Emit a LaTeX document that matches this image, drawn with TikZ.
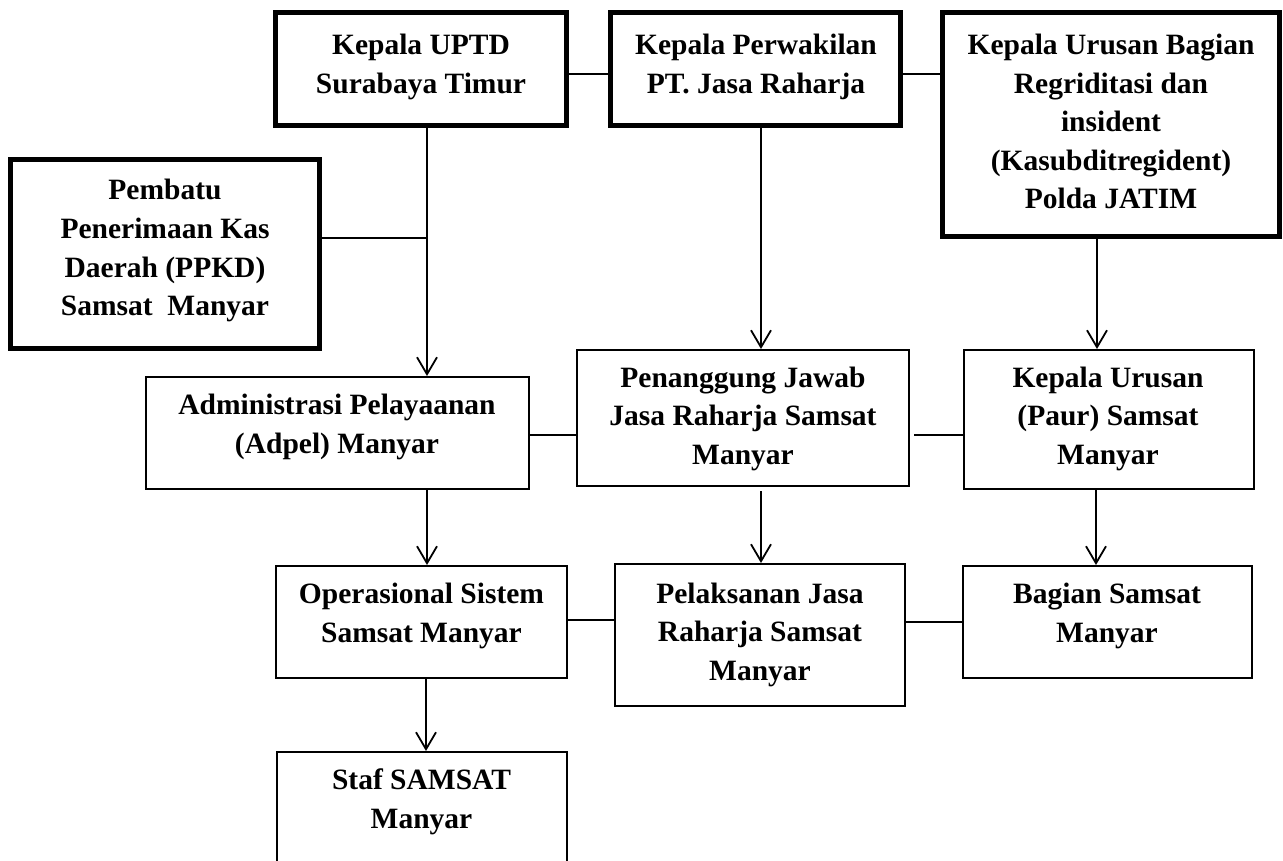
\documentclass[tikz,border=0pt]{standalone}
\usepackage{fontspec}
\setmainfont{Liberation Serif}
\usetikzlibrary{arrows.meta}
\begin{document}
\begin{tikzpicture}[x=1pt,y=-1pt,
  thickbox/.style={draw=black,line width=5pt,rectangle,inner sep=0pt,fill=white},
  thinbox/.style={draw=black,line width=2.4pt,rectangle,inner sep=0pt,fill=white},
  txt/.style={align=center,inner sep=0pt,font=\fontsize{29.5}{38.6}\selectfont\bfseries},
  conn/.style={draw=black,line width=1.8pt},
  arr/.style={conn,-{Straight Barb[length=17pt,width=20pt,line width=1.8pt]}}]
\clip (0,0) rectangle (1283,861);
\fill[white] (0,0) rectangle (1283,861);
% boxes
\node[thickbox,minimum width=291pt,minimum height=113pt] (b1) at (421,69) {};
\node[thickbox,minimum width=290pt,minimum height=113pt] (b2) at (755.5,69) {};
\node[thickbox,minimum width=337pt,minimum height=224pt] (b3) at (1111,124.5) {};
\node[thickbox,minimum width=309pt,minimum height=189pt] (b4) at (165,254) {};
\node[thinbox,minimum width=382.6pt,minimum height=111.6pt] (b5) at (337.5,433) {};
\node[thinbox,minimum width=331.6pt,minimum height=135.6pt] (b6) at (743,418) {};
\node[thinbox,minimum width=289.6pt,minimum height=138.6pt] (b7) at (1109,419.5) {};
\node[thinbox,minimum width=290.6pt,minimum height=111.6pt] (b8) at (421.5,622) {};
\node[thinbox,minimum width=289.6pt,minimum height=141.6pt] (b9) at (760,635) {};
\node[thinbox,minimum width=288.6pt,minimum height=111.6pt] (b10) at (1107.5,622) {};
\node[thinbox,minimum width=289.6pt,minimum height=140pt] (b11) at (422,822.2) {};
% texts
\node[txt] (t1) at (421,66.5) {\strut Kepala UPTD\\Surabaya Timur\strut};
\node[txt] (t2) at (756,66.5) {\strut Kepala Perwakilan\\PT. Jasa Raharja\strut};
\node[txt] (t3) at (1111,124) {\strut Kepala Urusan Bagian\\Regriditasi dan\\insident\\(Kasubditregident)\\Polda JATIM\strut};
\node[txt] (t4) at (165,250) {\strut Pembatu\\Penerimaan Kas\\Daerah (PPKD)\\Samsat\ \ Manyar\strut};
\node[txt] (t5) at (337,426.5) {\strut Administrasi Pelayaanan\\(Adpel) Manyar\strut};
\node[txt] (t6) at (743,418) {\strut Penanggung Jawab\\Jasa Raharja Samsat\\Manyar\strut};
\node[txt] (t7) at (1108,418) {\strut Kepala Urusan\\(Paur) Samsat\\Manyar\strut};
\node[txt] (t8) at (421.5,615) {\strut Operasional Sistem\\Samsat Manyar\strut};
\node[txt] (t9) at (760,634) {\strut Pelaksanan Jasa\\Raharja Samsat\\Manyar\strut};
\node[txt] (t10) at (1107,615.5) {\strut Bagian Samsat\\Manyar\strut};
\node[txt] (t11) at (421.5,801.5) {\strut Staf SAMSAT\\Manyar\strut};
% helper coordinates
\coordinate (y74) at (0,74);
\coordinate (j1) at (427,238);
\coordinate (x761) at (761,0);
\coordinate (x1097) at (1097,0);
\coordinate (x1096) at (1096,0);
\coordinate (x426) at (426,0);
\coordinate (y435) at (0,435);
\coordinate (y620) at (0,620);
\coordinate (y622) at (0,622);
% connectors
\draw[conn] (b1.east |- y74) -- (b2.west |- y74);
\draw[conn] (b2.east |- y74) -- (b3.west |- y74);
\draw[conn] (b4.east |- j1) -- (j1);
\draw[arr] (b1.south -| j1) -- (b5.north -| j1);
\draw[arr] (b2.south -| x761) -- (b6.north -| x761);
\draw[arr] (b3.south -| x1097) -- (b7.north -| x1097);
\draw[conn] (b5.east |- y435) -- (b6.west |- y435);
\draw[conn,shorten <=4pt] (b6.east |- y435) -- (b7.west |- y435);
\draw[arr] (b5.south -| j1) -- (b8.north -| j1);
\draw[arr,shorten <=4pt] (b6.south -| x761) -- (b9.north -| x761);
\draw[arr] (b7.south -| x1096) -- (b10.north -| x1096);
\draw[conn] (b8.east |- y620) -- (b9.west |- y620);
\draw[conn] (b9.east |- y622) -- (b10.west |- y622);
\draw[arr] (b8.south -| x426) -- (b11.north -| x426);
\end{tikzpicture}
\end{document}
